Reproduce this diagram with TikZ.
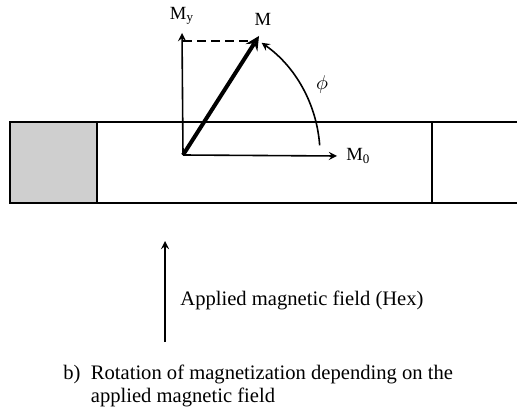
\documentclass[tikz,border=0pt]{standalone}
\usepackage{fontspec}
\setmainfont{Liberation Serif}
\usetikzlibrary{positioning}
\begin{document}
\begin{tikzpicture}[x=0.5pt, y=0.5pt, >=stealth, every node/.style={inner sep=0pt, font=\fontsize{10.3}{11.5}\selectfont}]
	\useasboundingbox (0,0) rectangle (517,412);
	% 1. 样品条带
	\fill[gray!38] (10,209) rectangle (97,290);
	\draw[line width=1.4pt] (518,290) -- (10,290) -- (10,209) -- (518,209);
	\draw[line width=1.4pt] (97,209) -- (97,290);
	\draw[line width=1.4pt] (432,209) -- (432,290);
	
	% 2. 矢量端点
	\coordinate (O) at (183,257);
	\coordinate (Mx) at (337,256);
	\coordinate (My) at (182,379);
	\coordinate (Mt) at (259,376);
	
	% 3. 磁化矢量与分量
	\draw[->, line width=0.8pt] (O) -- (Mx);
	\draw[->, line width=0.8pt] (O) -- (My);
	\draw[->, line width=2pt] (O) -- (Mt);
	\draw[line width=1.1pt, dash pattern=on 4.5pt off 2.5pt] (O |- 0,371) -- (256,371);
	\draw[->, line width=0.8pt] ([shift={(4:137)}]O) arc[start angle=4, end angle=55, radius=137];
	
	% 4. 标签
	\node[right=4.5pt of Mx, font=\fontsize{9.3}{10}\selectfont] (lblMx) {M\textsubscript{0}};
	\node[above=4pt of My, xshift=0pt, font=\fontsize{9.3}{10}\selectfont] (lblMy) {M\textsubscript{y}};
	\node[above=5pt of Mt, xshift=2pt, font=\fontsize{9.3}{10}\selectfont] (lblM) {M};
	\node (phi) at (322,327) {$\phi$};
	
	% 5. 外加磁场与说明
	\coordinate (Hb) at (165,70);
	\coordinate (Ht) at (165,171);
	\draw[->, line width=0.8pt] (Hb) -- (Ht);
	\node[anchor=west] (field) at (180,112) {Applied magnetic field (Hex)};
	\node[anchor=west] (caption) at (63,26) {\begin{tabular}{@{}l@{\ \ }l@{}}b) & Rotation of magnetization depending on the\\ & applied magnetic field\end{tabular}};
\end{tikzpicture}
\end{document}
